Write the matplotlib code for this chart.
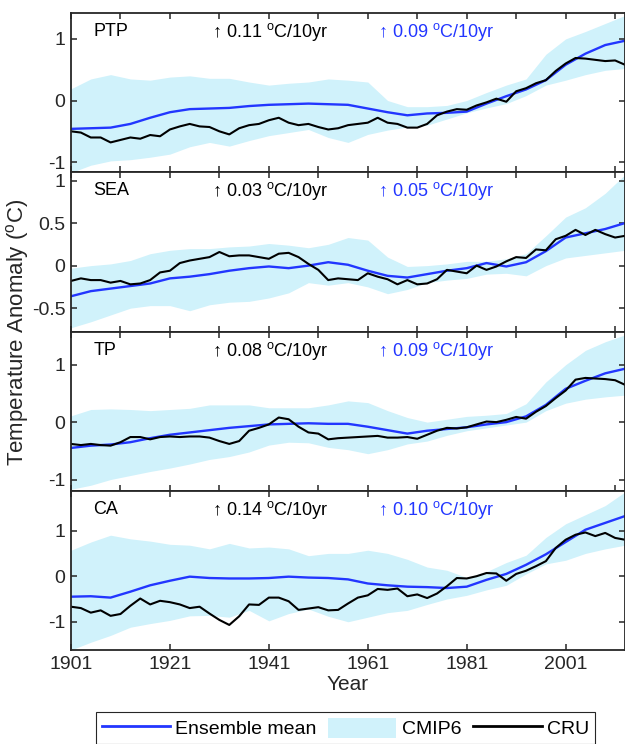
import matplotlib
matplotlib.use('Agg')
import matplotlib.pyplot as plt
from matplotlib.lines import Line2D
from matplotlib.patches import Patch
import numpy as np

plt.rcParams['font.family'] = ['Liberation Sans', 'DejaVu Sans']
plt.rcParams['mathtext.fontset'] = 'custom'
plt.rcParams['mathtext.rm'] = 'Liberation Sans'
plt.rcParams['axes.unicode_minus'] = False

# years for model band / ensemble mean, and for the CRU series
years4 = np.arange(1901, 2014, 4)
years2 = np.arange(1901, 2014, 2)

regions = ['PTP', 'SEA', 'TP', 'CA']
cru_trend = ['0.11', '0.03', '0.08', '0.14']
ens_trend = ['0.09', '0.05', '0.09', '0.10']

ptp_mean = [-0.46, -0.45, -0.44, -0.38, -0.28, -0.19, -0.14, -0.13, -0.12, -0.09, -0.07, -0.06, -0.05,
            -0.06, -0.07, -0.13, -0.19, -0.24, -0.21, -0.2, -0.18, -0.05, 0.07, 0.18, 0.33, 0.58, 0.76, 0.9, 0.97]
ptp_up = [0.19, 0.35, 0.42, 0.35, 0.33, 0.38, 0.4, 0.36, 0.36, 0.3, 0.25, 0.28, 0.3,
          0.35, 0.33, 0.3, 0.0, -0.1, -0.1, -0.08, 0.0, 0.13, 0.25, 0.35, 0.75, 1.0, 1.12, 1.25, 1.38]
ptp_lo = [-1.17, -1.05, -0.98, -0.96, -0.92, -0.87, -0.75, -0.68, -0.74, -0.65, -0.57, -0.52, -0.47,
          -0.6, -0.68, -0.55, -0.48, -0.43, -0.4, -0.3, -0.2, -0.12, -0.05, 0.08, 0.25, 0.33, 0.42, 0.49, 0.52]
ptp_cru = [-0.5, -0.52, -0.6, -0.6, -0.68, -0.64, -0.6, -0.62, -0.56, -0.58,
           -0.47, -0.42, -0.38, -0.42, -0.43, -0.5, -0.55, -0.45, -0.4, -0.38,
           -0.32, -0.28, -0.36, -0.4, -0.38, -0.43, -0.47, -0.45, -0.4, -0.38,
           -0.36, -0.28, -0.36, -0.38, -0.44, -0.44, -0.38, -0.24, -0.18, -0.14,
           -0.15, -0.08, -0.03, 0.03, -0.02, 0.15, 0.2, 0.28, 0.33, 0.48,
           0.6, 0.69, 0.68, 0.66, 0.64, 0.65, 0.58]

sea_mean = [-0.36, -0.3, -0.27, -0.24, -0.21, -0.15, -0.13, -0.1, -0.06, -0.03, -0.01, -0.03, 0.0,
            0.04, 0.01, -0.06, -0.12, -0.14, -0.1, -0.06, -0.03, 0.03, -0.01, 0.04, 0.17, 0.33, 0.38, 0.43, 0.5]
sea_up = [-0.03, 0.0, 0.02, 0.06, 0.14, 0.18, 0.2, 0.2, 0.22, 0.23, 0.26, 0.24, 0.21,
          0.25, 0.33, 0.3, 0.1, -0.01, 0.0, 0.02, 0.05, 0.05, 0.08, 0.14, 0.35, 0.57, 0.68, 0.85, 1.07]
sea_lo = [-0.73, -0.66, -0.58, -0.5, -0.47, -0.47, -0.53, -0.46, -0.43, -0.42, -0.38, -0.32, -0.2,
          -0.23, -0.2, -0.25, -0.33, -0.28, -0.2, -0.17, -0.15, -0.1, -0.09, -0.12, 0.0, 0.09, 0.12, 0.15, 0.18]
sea_cru = [-0.18, -0.15, -0.17, -0.17, -0.2, -0.18, -0.22, -0.21, -0.17, -0.08,
           -0.06, 0.03, 0.06, 0.08, 0.1, 0.16, 0.11, 0.12, 0.12, 0.1,
           0.08, 0.14, 0.15, 0.1, 0.02, -0.05, -0.17, -0.15, -0.16, -0.17,
           -0.09, -0.13, -0.16, -0.22, -0.17, -0.22, -0.21, -0.16, -0.05, -0.07,
           -0.09, 0.0, -0.05, -0.01, 0.05, 0.1, 0.09, 0.19, 0.18, 0.31,
           0.35, 0.42, 0.36, 0.42, 0.37, 0.33, 0.35]

tp_mean = [-0.45, -0.41, -0.39, -0.35, -0.28, -0.22, -0.18, -0.14, -0.1, -0.07, -0.04, -0.03, -0.02,
           -0.03, -0.03, -0.08, -0.14, -0.2, -0.15, -0.12, -0.09, -0.04, 0.0, 0.1, 0.3, 0.58, 0.72, 0.85, 0.93]
tp_up = [0.11, 0.22, 0.23, 0.22, 0.2, 0.22, 0.24, 0.3, 0.3, 0.3, 0.25, 0.25, 0.25,
         0.3, 0.37, 0.34, 0.2, 0.08, 0.0, 0.05, 0.1, 0.12, 0.15, 0.32, 0.7, 1.0, 1.25, 1.4, 1.52]
tp_lo = [-1.17, -1.1, -1.0, -0.93, -0.86, -0.8, -0.73, -0.65, -0.6, -0.52, -0.4, -0.35, -0.36,
         -0.44, -0.48, -0.55, -0.48, -0.38, -0.33, -0.23, -0.15, -0.1, -0.05, 0.0, 0.2, 0.33, 0.4, 0.44, 0.47]
tp_cru = [-0.38, -0.4, -0.38, -0.4, -0.41, -0.35, -0.26, -0.26, -0.3, -0.26,
          -0.25, -0.26, -0.25, -0.25, -0.27, -0.33, -0.38, -0.33, -0.15, -0.1,
          -0.04, 0.08, 0.05, -0.08, -0.18, -0.2, -0.3, -0.28, -0.27, -0.26,
          -0.25, -0.24, -0.27, -0.27, -0.26, -0.29, -0.22, -0.15, -0.1, -0.11,
          -0.09, -0.04, 0.01, 0.0, 0.04, 0.09, 0.06, 0.18, 0.28, 0.42,
          0.55, 0.74, 0.77, 0.76, 0.75, 0.73, 0.65]

ca_mean = [-0.45, -0.44, -0.47, -0.34, -0.2, -0.1, -0.01, -0.04, -0.05, -0.05, -0.04, -0.01, -0.03,
           -0.04, -0.07, -0.16, -0.2, -0.23, -0.24, -0.26, -0.23, -0.08, 0.05, 0.25, 0.48, 0.75, 1.02, 1.17, 1.32]
ca_up = [0.57, 0.75, 0.9, 0.82, 0.77, 0.7, 0.68, 0.6, 0.72, 0.62, 0.64, 0.6, 0.45,
         0.5, 0.5, 0.57, 0.5, 0.37, 0.2, 0.13, -0.03, 0.1, 0.3, 0.46, 0.85, 1.15, 1.35, 1.55, 1.85]
ca_lo = [-1.62, -1.45, -1.3, -1.12, -1.04, -0.97, -0.87, -0.86, -0.9, -0.75, -0.98, -0.82, -0.72,
         -0.88, -1.0, -0.9, -0.8, -0.75, -0.62, -0.5, -0.42, -0.3, -0.2, 0.05, 0.27, 0.35, 0.5, 0.6, 0.68]
ca_cru = [-0.67, -0.7, -0.8, -0.75, -0.87, -0.83, -0.65, -0.49, -0.62, -0.54,
          -0.57, -0.62, -0.7, -0.67, -0.82, -0.96, -1.07, -0.88, -0.62, -0.63,
          -0.47, -0.47, -0.55, -0.74, -0.71, -0.68, -0.75, -0.74, -0.6, -0.47,
          -0.42, -0.28, -0.3, -0.27, -0.44, -0.4, -0.48, -0.38, -0.22, -0.04,
          -0.05, 0.0, 0.07, 0.06, -0.1, 0.05, 0.12, 0.22, 0.33, 0.62,
          0.8, 0.91, 0.96, 0.88, 0.95, 0.84, 0.8]

means = [ptp_mean, sea_mean, tp_mean, ca_mean]
ups = [ptp_up, sea_up, tp_up, ca_up]
los = [ptp_lo, sea_lo, tp_lo, ca_lo]
crus = [ptp_cru, sea_cru, tp_cru, ca_cru]

ylims = [(-1.16, 1.42), (-0.78, 1.1), (-1.2, 1.57), (-1.62, 1.87)]
yticks = [[-1, 0, 1], [-0.5, 0, 0.5, 1], [-1, 0, 1], [-1, 0, 1]]

blue = '#2236ff'
cyan = '#d0f2fb'
dark = '#262626'

fig = plt.figure(figsize=(6.25, 7.44), dpi=100)
W, H = 625.0, 744.0
edges = [13, 172, 332, 491, 650]

for i in range(4):
    ax = fig.add_axes([71 / W, 1 - edges[i + 1] / H, 554 / W, (edges[i + 1] - edges[i]) / H])
    ax.fill_between(years4, los[i], ups[i], color=cyan, lw=0)
    ax.plot(years4, means[i], color=blue, lw=1.7)
    ax.plot(years2, crus[i], color='k', lw=1.5)
    ax.set_xlim(1901, 2013)
    ax.set_ylim(ylims[i])
    ax.set_yticks(yticks[i])
    ax.set_yticklabels(['%g' % v for v in yticks[i]])
    if i < 3:
        ax.set_xticks(range(1901, 2014, 10))
        ax.set_xticklabels([])
    else:
        ax.set_xticks(range(1901, 2014, 20))
        ax.set_xlabel('Year', fontsize=15, color=dark, labelpad=2)
    ax.tick_params(direction='in', top=True, right=True, length=4.5, width=1.1,
                   labelsize=14, labelcolor=dark, color=dark, pad=4)
    for s in ax.spines.values():
        s.set_linewidth(1.3)
        s.set_color(dark)

    ax.text(0.04, 0.882, regions[i], transform=ax.transAxes, va='center', fontsize=13, color='k')
    ax.text(0.2545, 0.882, '\u2191 ' + cru_trend[i] + r' $\mathregular{^o}$C/10yr',
            transform=ax.transAxes, va='center', fontsize=13, color='k')
    ax.text(0.555, 0.882, '\u2191 ' + ens_trend[i] + r' $\mathregular{^o}$C/10yr',
            transform=ax.transAxes, va='center', fontsize=13, color=blue)

fig.text(18 / W, 1 - 332 / H, r'Temperature Anomaly ($\mathregular{^o}$C)', rotation=90,
         ha='center', va='center', fontsize=16, color=dark)

handles = [Line2D([], [], color=blue, lw=2),
           Patch(facecolor=cyan, edgecolor='none'),
           Line2D([], [], color='k', lw=2)]
leg = fig.legend(handles, ['Ensemble mean', 'CMIP6', 'CRU'], loc='upper center',
                 bbox_to_anchor=(345.5 / W, 1 - 712 / H), ncol=3, fontsize=14,
                 frameon=True, fancybox=False, edgecolor=dark, framealpha=1,
                 handlelength=3.5, handleheight=1.2, handletextpad=0.3,
                 columnspacing=0.6, borderpad=0.3, borderaxespad=0)
leg.get_frame().set_linewidth(0.8)

fig.savefig('out.png', dpi=100)
